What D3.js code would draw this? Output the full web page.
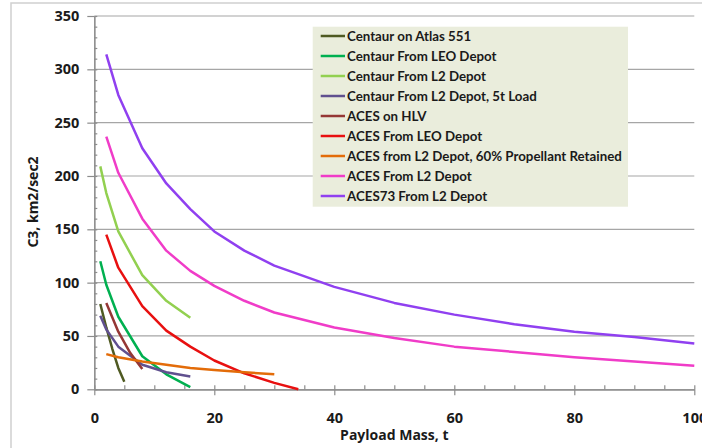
<!DOCTYPE html>
<html>
<head>
<meta charset="utf-8">
<script src="https://cdn.jsdelivr.net/npm/d3@7"></script>
<style>
  body { margin: 0; background: #fff; }
  svg { display: block; font-family: "Open Sans", sans-serif; }
</style>
</head>
<body>
<div id="chart"></div>
<script>
// series: payload mass (t) vs C3 (km2/sec2)
const seriesNames = [
  "Centaur on Atlas 551",
  "Centaur From LEO Depot",
  "Centaur From L2 Depot",
  "Centaur From L2 Depot, 5t Load",
  "ACES on HLV",
  "ACES From LEO Depot",
  "ACES from L2 Depot, 60% Propellant Retained",
  "ACES From L2 Depot",
  "ACES73 From L2 Depot"
];
const seriesColors = ["#4f5a22", "#00b050", "#92d050", "#60508f", "#953735", "#e81010", "#e36c09", "#f03cc8", "#9040f0"];

const atlasMass = [1, 2, 3, 4, 5];
const atlasC3 = [80, 58, 38, 20, 7];
const centaurLeoMass = [1, 2, 4, 8, 12, 16];
const centaurLeoC3 = [120, 98, 68, 31, 14, 2];
const centaurL2Mass = [1, 2, 4, 8, 12, 16];
const centaurL2C3 = [209, 184, 148, 107, 83, 67];
const centaur5tMass = [1, 2, 4, 8, 12, 16];
const centaur5tC3 = [69, 56, 40, 23, 16, 12];
const acesHlvMass = [2, 4, 6, 8];
const acesHlvC3 = [81, 54, 34, 19];
const acesLeoMass = [2, 4, 8, 12, 16, 20, 25, 30, 34];
const acesLeoC3 = [145, 114, 78, 55, 40, 27, 15, 6, 0];
const aces60Mass = [2, 4, 8, 12, 16, 20, 25, 30];
const aces60C3 = [33, 30, 26, 23, 20, 18, 16, 14];
const acesL2Mass = [2, 4, 8, 12, 16, 20, 25, 30, 40, 50, 60, 70, 80, 90, 100];
const acesL2C3 = [237, 203, 160, 130, 111, 97, 83, 72, 58, 48, 40, 35, 30, 26, 22];
const aces73Mass = [2, 4, 8, 12, 16, 20, 25, 30, 40, 50, 60, 70, 80, 90, 100];
const aces73C3 = [314, 276, 226, 193, 169, 148, 130, 116, 96, 81, 70, 61, 54, 49, 43];

const xTicks = [0, 20, 40, 60, 80, 100];
const yTicks = [0, 50, 100, 150, 200, 250, 300, 350];

const allMass = [atlasMass, centaurLeoMass, centaurL2Mass, centaur5tMass, acesHlvMass, acesLeoMass, aces60Mass, acesL2Mass, aces73Mass];
const allC3 = [atlasC3, centaurLeoC3, centaurL2C3, centaur5tC3, acesHlvC3, acesLeoC3, aces60C3, acesL2C3, aces73C3];

const width = 702, height = 448,
  margin = {top: 16, right: 7.7, bottom: 58.7, left: 94.3};

const svg = d3.select("#chart")
  .append("svg")
  .attr("width", width)
  .attr("height", height);

// outer chart frame
svg.append("rect")
  .attr("x", 11).attr("y", 3)
  .attr("width", 720).attr("height", 480)
  .attr("fill", "none")
  .attr("stroke", "#d0d0d0")
  .attr("stroke-width", 1.5);

const x = d3.scaleLinear([0, 100], [margin.left, width - margin.right]);
const y = d3.scaleLinear([0, 350], [height - margin.bottom, margin.top]);

// gridlines
svg.append("g")
  .selectAll("line")
  .data(yTicks.slice(1))
  .join("line")
  .attr("x1", x(0)).attr("x2", x(100))
  .attr("y1", d => y(d)).attr("y2", d => y(d))
  .attr("stroke", "#a6a6a6")
  .attr("stroke-width", 1.2);

// x axis: major ticks with labels, minor ticks pointing inward
svg.append("g")
  .attr("transform", `translate(0,${y(0)})`)
  .call(d3.axisBottom(x).tickValues(xTicks).tickSize(6).tickPadding(17).tickSizeOuter(0));
svg.append("g")
  .attr("transform", `translate(0,${y(0)})`)
  .call(d3.axisTop(x).tickValues(d3.range(0, 101, 5)).tickSize(4).tickFormat("").tickSizeOuter(0));

svg.append("g")
  .attr("transform", `translate(${x(0)},0)`)
  .call(d3.axisLeft(y).tickValues(yTicks).tickSize(7).tickPadding(8).tickSizeOuter(0));
svg.append("g")
  .attr("transform", `translate(${x(0)},0)`)
  .call(d3.axisRight(y).tickValues(d3.range(0, 351, 10)).tickSize(3).tickFormat("").tickSizeOuter(0));

svg.selectAll(".domain, .tick line")
  .attr("stroke", "#8c8c8c")
  .attr("stroke-width", 1.2);
svg.selectAll(".tick text")
  .attr("fill", "#1a1a1a")
  .attr("font-size", 14.5)
  .attr("font-weight", "bold")
  .attr("font-family", "'Open Sans', sans-serif");

// axis titles
svg.append("text")
  .attr("x", (x(0) + x(100)) / 2)
  .attr("y", 440)
  .attr("text-anchor", "middle")
  .attr("font-size", 14)
  .attr("font-weight", "bold")
  .attr("fill", "#1a1a1a")
  .text("Payload Mass, t");

svg.append("text")
  .attr("transform", "translate(38,202) rotate(-90)")
  .attr("text-anchor", "middle")
  .attr("font-size", 14)
  .attr("font-weight", "bold")
  .attr("fill", "#1a1a1a")
  .text("C3, km2/sec2");

// series lines
const line = d3.line()
  .x(d => x(d[0]))
  .y(d => y(d[1]));

const seriesData = seriesNames.map((name, i) => ({
  name,
  color: seriesColors[i],
  points: allMass[i].map((m, j) => [m, allC3[i][j]])
}));

svg.append("g")
  .selectAll("path")
  .data(seriesData)
  .join("path")
  .attr("d", d => line(d.points))
  .attr("fill", "none")
  .attr("stroke", d => d.color)
  .attr("stroke-width", 2.5)
  .attr("stroke-linejoin", "round");

// legend
const legend = svg.append("g");
legend.append("rect")
  .attr("x", 312.7).attr("y", 26.7)
  .attr("width", 315.3).attr("height", 180)
  .attr("fill", "#eaeddc");

const legendItem = legend.selectAll(".legend-item")
  .data(seriesData)
  .join("g")
  .attr("class", "legend-item")
  .attr("transform", (d, i) => `translate(0,${36 + i * 20})`);

legendItem.append("line")
  .attr("x1", 320.7).attr("x2", 345)
  .attr("stroke", d => d.color)
  .attr("stroke-width", 2.5);

legendItem.append("text")
  .attr("x", 347)
  .attr("dy", "0.35em")
  .attr("font-family", "Lato, sans-serif")
  .attr("font-size", 13.3)
  .attr("font-weight", "bold")
  .attr("fill", "#1a1a1a")
  .text(d => d.name);
</script>
</body>
</html>
